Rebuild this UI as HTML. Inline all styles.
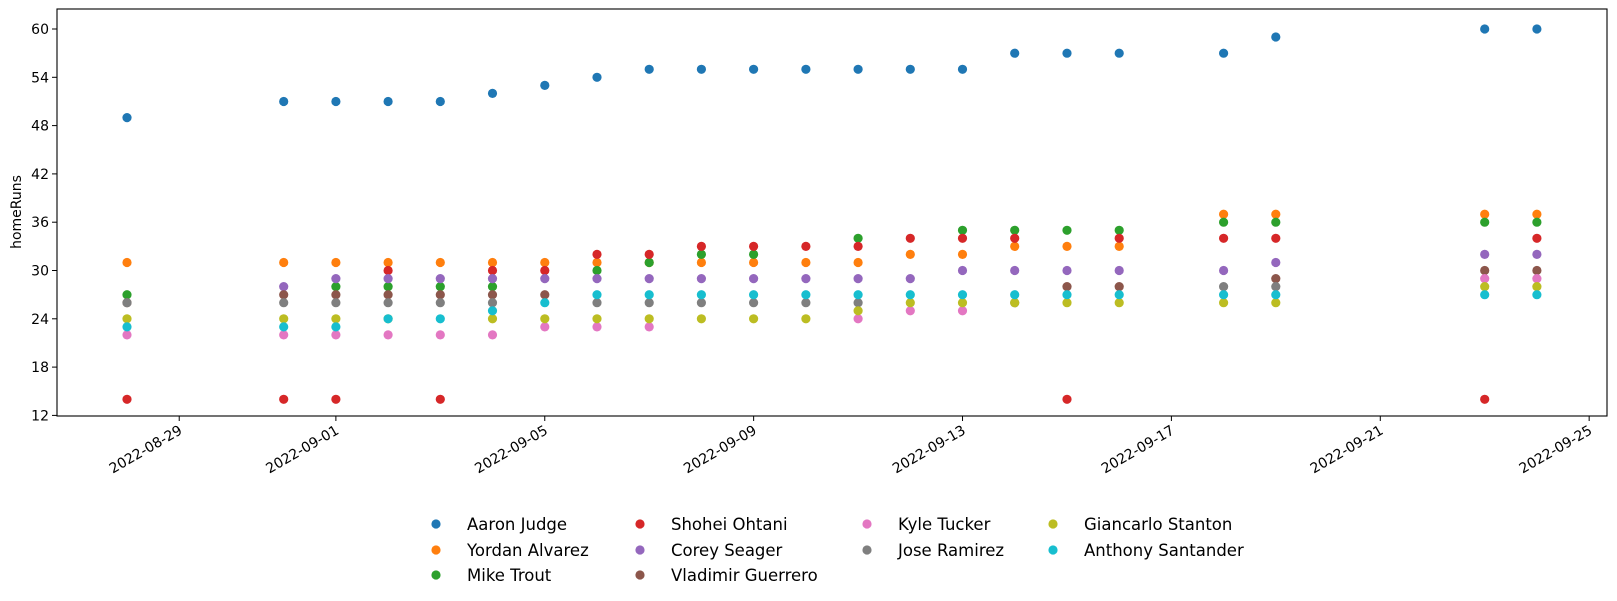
<!DOCTYPE html>
<html><head><meta charset="utf-8"><style>
html,body{margin:0;padding:0;background:#fff;}
svg{display:block;font-family:"DejaVu Sans","Liberation Sans",sans-serif;}
</style></head><body>
<svg id="chart" width="1617" height="601" viewBox="0 0 1617 601" xmlns="http://www.w3.org/2000/svg">
<rect x="0" y="0" width="1617" height="601" fill="#fff"/>
<g id="marks"></g>
<g id="axes"></g>
<g id="legend"></g>
</svg>
<script>
const dates = ["2022-08-28","2022-08-31","2022-09-01","2022-09-02","2022-09-03","2022-09-04","2022-09-05","2022-09-06","2022-09-07","2022-09-08","2022-09-09","2022-09-10","2022-09-11","2022-09-12","2022-09-13","2022-09-14","2022-09-15","2022-09-16","2022-09-18","2022-09-19","2022-09-23","2022-09-24"];
const players = ["Aaron Judge","Yordan Alvarez","Mike Trout","Shohei Ohtani","Corey Seager","Vladimir Guerrero","Kyle Tucker","Jose Ramirez","Giancarlo Stanton","Anthony Santander"];
const colors = ["#1f77b4","#ff7f0e","#2ca02c","#d62728","#9467bd","#8c564b","#e377c2","#7f7f7f","#bcbd22","#17becf"];
const judge = [49,51,51,51,51,52,53,54,55,55,55,55,55,55,55,57,57,57,57,59,60,60];
const alvarez = [31,31,31,31,31,31,31,31,31,31,31,31,31,32,32,33,33,33,37,37,37,37];
const trout = [27,null,28,28,28,28,null,30,31,32,32,null,34,null,35,35,35,35,36,36,36,36];
const ohtani = [null,null,null,30,null,30,30,32,32,33,33,33,33,34,34,34,null,34,34,34,null,34];
const ohtaniLow = [14,14,14,null,14,null,null,null,null,null,null,null,null,null,null,null,14,null,null,null,14,null];
const seager = [null,28,29,29,29,29,29,29,29,29,29,29,29,29,30,30,30,30,30,31,32,32];
const guerrero = [26,27,27,27,27,27,27,null,null,null,null,null,null,null,null,null,28,28,null,29,30,30];
const tucker = [22,22,22,22,22,22,23,23,23,null,null,null,24,25,25,null,null,null,null,null,29,29];
const ramirez = [26,26,26,26,26,26,null,26,26,26,26,26,26,null,null,26,null,null,28,28,null,null];
const stanton = [24,24,24,24,null,24,24,24,24,24,24,24,25,26,26,26,26,26,26,26,28,28];
const santander = [23,23,23,24,24,25,26,27,27,27,27,27,27,27,27,27,27,27,27,27,27,27];
const seriesList = [[judge],[alvarez],[trout],[ohtani,ohtaniLow],[seager],[guerrero],[tucker],[ramirez],[stanton],[santander]];
const yTicks = [12,18,24,30,36,42,48,54,60];
const xTicks = ["2022-08-29","2022-09-01","2022-09-05","2022-09-09","2022-09-13","2022-09-17","2022-09-21","2022-09-25"];

const NS="http://www.w3.org/2000/svg";
const L=57,R=1607,T=9,B=416;
const base=Date.UTC(2022,7,28);
function dayOf(s){const p=s.split("-");return (Date.UTC(+p[0],+p[1]-1,+p[2])-base)/86400000;}
function xScale(s){return 127+dayOf(s)*52.22;}
function yScale(v){return 29+(60-v)*8.05;}
function mk(tag,attrs,parent){const e=document.createElementNS(NS,tag);for(const k in attrs)e.setAttribute(k,attrs[k]);parent.appendChild(e);return e;}

const marks=document.getElementById("marks");
seriesList.forEach((arrs,si)=>{
  const g=mk("g",{},marks);
  
  
  arrs.forEach(arr=>{
    arr.forEach((v,i)=>{
      if(v===null)return;
      const c=mk("circle",{cx:xScale(dates[i]).toFixed(1),cy:yScale(v).toFixed(1),r:4.6,fill:colors[si]},g);
      
      
    });
  });
});

const axes=document.getElementById("axes");
const frame=mk("rect",{x:L,y:T,width:R-L,height:B-T,fill:"none",stroke:"#000","stroke-width":1.1},axes);


yTicks.forEach(v=>{
  const y=yScale(v);
  const t=mk("line",{x1:L-5,x2:L,y1:y,y2:y,stroke:"#000","stroke-width":1},axes);
  
  
  const lb=mk("text",{x:L-8,y:y+5,"text-anchor":"end","font-size":"14",fill:"#000"},axes);
  lb.textContent=v;
  
  
});
xTicks.forEach(s=>{
  const x=xScale(s);
  const t=mk("line",{x1:x,x2:x,y1:B,y2:B+5,stroke:"#000","stroke-width":1},axes);
  
  
  const lb=mk("text",{x:x+4,y:B+17,"text-anchor":"end","font-size":"14",fill:"#000",transform:"rotate(-30 "+(x+4)+" "+(B+17)+")"},axes);
  lb.textContent=s;
  
  
});
const yl=mk("text",{x:0,y:0,"text-anchor":"middle","font-size":"14",fill:"#000",transform:"translate(21 212) rotate(-90)"},axes);
yl.textContent="homeRuns";



const legend=document.getElementById("legend");
const colX=[436,640,867,1053];
const rowY=[524,550,575];
players.forEach((p,i)=>{
  const col=i<3?0:(i<6?1:(i<8?2:3));
  const row=i<3?i:(i<6?i-3:(i<8?i-6:i-8));
  const g=mk("g",{},legend);
  
  
  mk("circle",{cx:colX[col],cy:rowY[row],r:4.6,fill:colors[i]},g);
  const t=mk("text",{x:colX[col]+31,y:rowY[row]+6,"font-size":"16.5",fill:"#000"},g);
  t.textContent=p;
});
</script>
</body></html>
